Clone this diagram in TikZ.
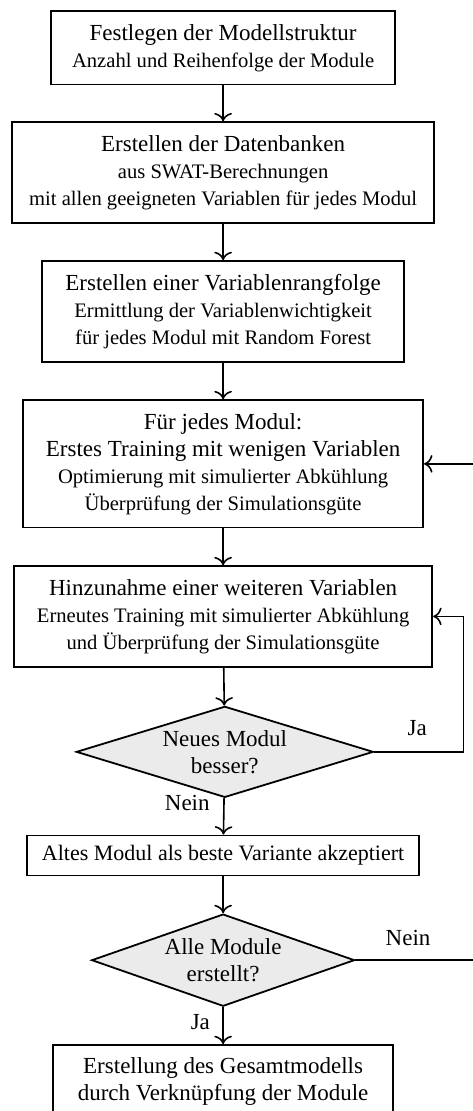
\documentclass[tikz,border=0pt]{standalone}
\usepackage{fontspec}
\setmainfont{Liberation Serif}
\usetikzlibrary{arrows.meta,shapes.geometric}

\newcommand{\stepfont}{\fontsize{11.5}{13.5}\selectfont}
\newcommand{\notefont}{\fontsize{10.3}{13.5}\selectfont}

\begin{document}
\begin{tikzpicture}[
  font=\stepfont,
  stepbox/.style={draw, line width=0.9pt, align=center, inner xsep=4pt, inner ysep=6.5pt},
  decision/.style={diamond, draw, line width=0.9pt, fill=black!8, align=center, inner sep=0pt},
  arrow/.style={thick, -{To[scale=1.25]}},
  answer/.style={inner sep=0pt}
]
\useasboundingbox (-3.92,0) rectangle (4.39,-19.52);

% Ablauf von oben nach unten
\node[stepbox, minimum width=6.05cm] (struktur) at (0,-0.84) {Festlegen der Modellstruktur\\{\notefont Anzahl und Reihenfolge der Module}};
\node[stepbox, minimum width=7.42cm] (daten) at (0,-3.03) {Erstellen der Datenbanken\\{\notefont aus SWAT-Berechnungen}\\{\notefont mit allen geeigneten Variablen für jedes Modul}};
\node[stepbox, minimum width=6.36cm] (rang) at (0,-5.47) {Erstellen einer Variablenrangfolge\\{\notefont Ermittlung der Variablenwichtigkeit}\\{\notefont für jedes Modul mit Random Forest}};
\node[stepbox, minimum width=7.03cm] (training) at (0,-8.15) {Für jedes Modul:\\Erstes Training mit wenigen Variablen\\{\notefont Optimierung mit simulierter Abkühlung}\\{\notefont Überprüfung der Simulationsgüte}};
\node[stepbox, minimum width=7.35cm] (hinzu) at (0,-10.83) {Hinzunahme einer weiteren Variablen\\{\notefont Erneutes Training mit simulierter Abkühlung}\\{\notefont und Überprüfung der Simulationsgüte}};
\node[decision, aspect=3.26, minimum width=5.22cm, minimum height=1.60cm] (besser) at (0.03,-13.21) {Neues Modul\\besser?};
\node[stepbox, inner ysep=5pt, minimum width=6.89cm, font=\fontsize{11}{13.5}\selectfont] (alt) at (0,-15.03) {Altes Modul als beste Variante akzeptiert};
\node[decision, aspect=2.86, minimum width=4.62cm, minimum height=1.62cm] (alle) at (0,-16.87) {Alle Module\\erstellt?};
\node[stepbox, minimum width=5.97cm] (gesamt) at (0,-19.01) {Erstellung des Gesamtmodells\\durch Verknüpfung der Module};

\draw[arrow] (struktur) -- (daten);
\draw[arrow] (daten) -- (rang);
\draw[arrow] (rang) -- (training);
\draw[arrow] (training) -- (hinzu);
\draw[arrow] (hinzu) -- (besser);
\draw[arrow] (besser) -- (alt);
\draw[arrow] (alt) -- (alle);
\draw[arrow] (alle) -- (gesamt);

% Schleifen
\draw[arrow] (besser.east) -| ([xshift=0.53cm]hinzu.east) -- (hinzu.east);
\draw[arrow] (alle.east) -| ([xshift=1.04cm]training.east) -- (training.east);

\node[answer] (ja1) at (3.41,-12.79) {Ja};
\node[answer] (nein1) at (-0.63,-14.11) {Nein};
\node[answer] (nein2) at (3.25,-16.48) {Nein};
\node[answer] (ja2) at (-0.40,-17.96) {Ja};
\end{tikzpicture}
\end{document}
